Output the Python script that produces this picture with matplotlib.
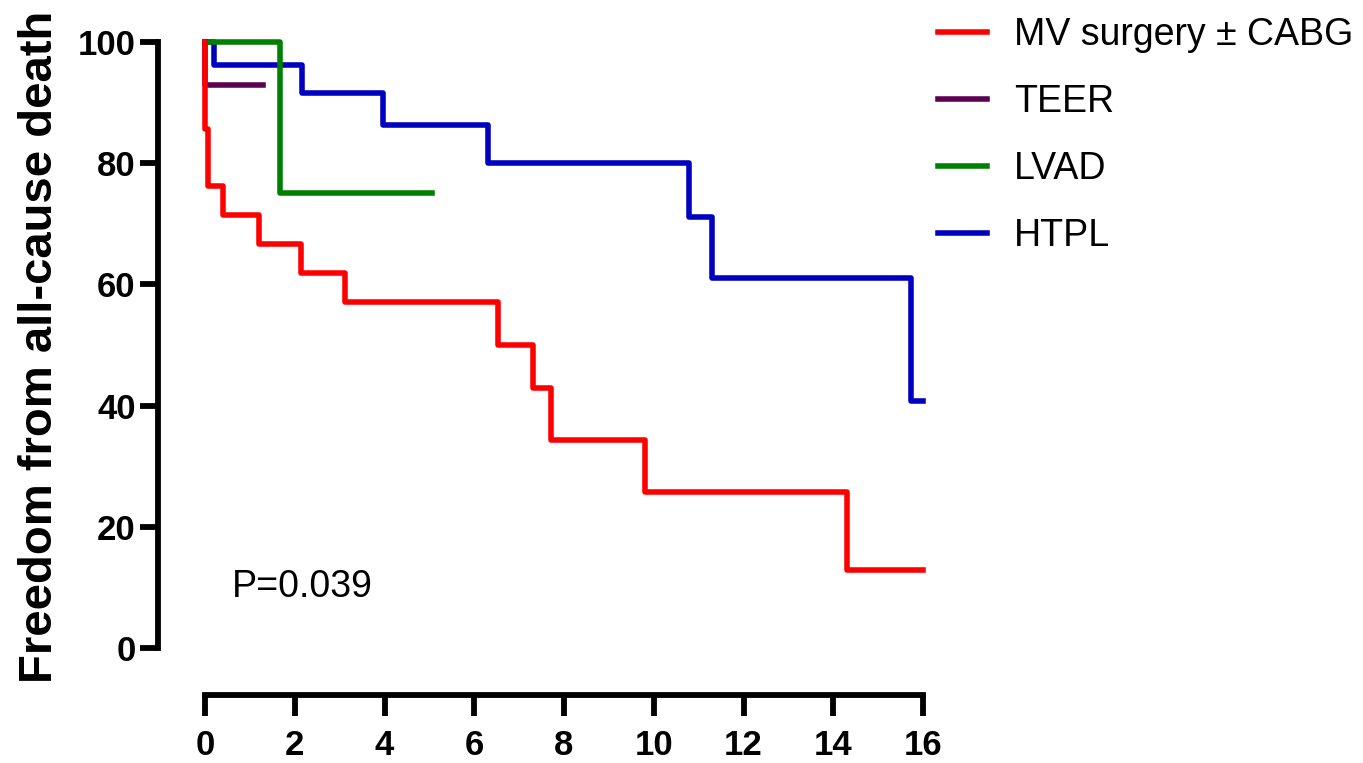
import matplotlib
matplotlib.use("Agg")
import matplotlib.pyplot as plt

plt.rcParams['font.family'] = ['Liberation Sans', 'DejaVu Sans']

# -------------------------------
# Kaplan-Meier step data (years, % free from death)
# -------------------------------
mv_t = [0, 0, 0.07, 0.4, 1.2, 2.14, 3.12, 6.54, 7.3, 7.72, 9.8, 14.3, 16]
mv_s = [100, 85.7, 76.2, 71.4, 66.7, 61.9, 57.1, 50, 42.9, 34.3, 25.7, 12.9, 12.9]

teer_t = [0, 0, 1.3]
teer_s = [100, 92.9, 92.9]

lvad_t = [0, 1.67, 5.05]
lvad_s = [100, 75, 75]

htpl_t = [0, 0.2, 2.17, 3.97, 6.3, 10.78, 11.3, 15.74, 16]
htpl_s = [100, 96.2, 91.6, 86.3, 80, 71.1, 61, 40.7, 40.7]

labels = ['MV surgery \u00b1 CABG', 'TEER', 'LVAD', 'HTPL']
colors = ['#ff0000', '#5c0052', '#008000', '#0000c0']

x_ticks = [0, 2, 4, 6, 8, 10, 12, 14, 16]
y_ticks = [0, 20, 40, 60, 80, 100]

W, H = 1363, 763
fig = plt.figure(figsize=(W / 100, H / 100), dpi=100)
ax = fig.add_axes([205 / W, 1 - 648 / H, (923 - 205) / W, (648 - 42) / H])

lw = 4.0
kw = dict(where='post', lw=lw, solid_capstyle='projecting', clip_on=False)
# drawing order: HTPL underneath, MV on top
h_htpl, = ax.step(htpl_t, htpl_s, color=colors[3], **kw)
h_lvad, = ax.step(lvad_t, lvad_s, color=colors[2], **kw)
h_teer, = ax.step(teer_t, teer_s, color=colors[1], **kw)
h_mv, = ax.step(mv_t, mv_s, color=colors[0], **kw)

ax.set_xlim(0, 16)
ax.set_ylim(0, 100)
ax.set_xticks(x_ticks)
ax.set_yticks(y_ticks)

for side in ['top', 'right']:
    ax.spines[side].set_visible(False)
ax.spines['left'].set_position(('outward', 34))
ax.spines['bottom'].set_position(('outward', 34))
ax.spines['left'].set_linewidth(4.2)
ax.spines['bottom'].set_linewidth(4.2)
ax.spines['left'].set_capstyle('projecting')
ax.spines['bottom'].set_capstyle('projecting')

ax.tick_params(axis='y', length=13, width=4.2, pad=3, labelsize=25)
ax.tick_params(axis='x', length=15, width=4.2, pad=9, labelsize=25)
for lab in ax.get_xticklabels() + ax.get_yticklabels():
    lab.set_fontweight('bold')

fig.text(40 / W, 1 - 347 / H, 'Freedom from all-cause death', rotation=90,
         ha='center', va='center', fontsize=34, fontweight='bold')

ax.text(0.6, 8.4, 'P=0.039', fontsize=27, ha='left', va='baseline')

ax.legend([h_mv, h_teer, h_lvad, h_htpl], labels,
          loc='upper left', bbox_to_anchor=(938 / W, 1 - 17 / H),
          bbox_transform=fig.transFigure, frameon=False, fontsize=27,
          handlelength=1.3, handletextpad=0.72, labelspacing=0.83,
          borderaxespad=0, borderpad=0)

fig.savefig('out.png', dpi=100)
